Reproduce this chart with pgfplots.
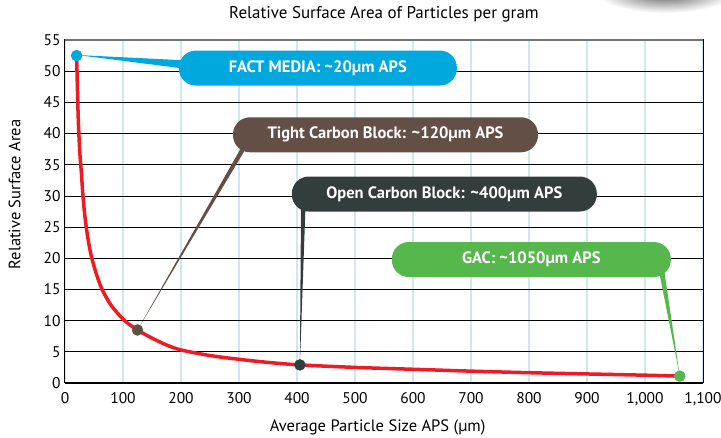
\documentclass[border=0pt]{standalone}
\usepackage{pgfplots}
\pgfplotsset{compat=1.18}
\usepackage{fontspec}
\setmainfont{PT Sans}
\definecolor{redline}{HTML}{ED1C24}
\definecolor{factblue}{HTML}{00A8DE}
\definecolor{tightbrown}{HTML}{634F45}
\definecolor{opendark}{HTML}{343D3E}
\definecolor{gacgreen}{HTML}{56B84C}
\definecolor{gridblue}{HTML}{CDE7F4}
\begin{document}
\begin{tikzpicture}
\useasboundingbox (-65pt,-55pt) rectangle (656pt,383pt);
\begin{scope}
\clip (-65pt,-55pt) rectangle (656pt,383pt);
\shade[inner color=black!70, outer color=white] (600pt,392pt) ellipse (70pt and 22pt);
\end{scope}
\begin{axis}[
  scale only axis, width=638pt, height=343pt,
  xmin=0, xmax=1100, ymin=0, ymax=55,
  xtick={0,100,...,1100}, ytick={0,5,...,55},
  major tick length=0pt,
  xmajorgrids, ymajorgrids,
  major x grid style={gridblue, line width=1.6pt},
  major y grid style={black, line width=0.8pt},
  axis line style={black, line width=1pt},
  tick label style={font=\fontsize{15.5}{17}\selectfont},
  xticklabel style={yshift=-6pt},
  yticklabel style={xshift=-1pt},
  /pgf/number format/assume math mode=true,
  /pgf/number format/1000 sep={,},
  xlabel={Average Particle Size APS (µm)},
  ylabel={Relative Surface Area},
  label style={font=\fontsize{16.5}{18}\selectfont},
  xlabel style={at={(axis description cs:0.49,-0.131)}, anchor=center},
  ylabel style={at={(axis description cs:-0.079,0.55)}, anchor=center},
  title={Relative Surface Area of Particles per gram},
  title style={at={(axis description cs:0.5,1.058)}, anchor=center, font=\fontsize{17}{19}\selectfont},
  clip=false,
]
\draw[black!55, line width=1.2pt] (rel axis cs:0,1) -- (rel axis cs:1,1);
% curve
\addplot[redline, line width=3.5pt, smooth, tension=0.5] coordinates {
 (20,52.5) (21.5,47) (23,42) (25.5,37) (28,34) (31,30) (34,27) (39,23.5)
 (45,20.5) (54,17.5) (64,15) (80,12.4) (103,10) (125,8.5) (150,7.2)
 (175,6.1) (200,5.3) (250,4.4) (300,3.8) (350,3.3) (405,2.9) (500,2.5)
 (600,2.2) (700,1.9) (800,1.65) (900,1.45) (1000,1.25) (1060,1.1)
};
% pointers
\fill[factblue] (axis cs:20,52.6) -- (axis cs:215,51.7) -- (axis cs:215,50.3) -- cycle;
\fill[tightbrown] (axis cs:125,8.5) -- (axis cs:306,38.1) -- (axis cs:315,38.1) -- cycle;
\fill[opendark] (axis cs:405,2.9) -- (axis cs:407,29.3) -- (axis cs:415,29.3) -- cycle;
\fill[gacgreen] (axis cs:1060,1.1) -- (axis cs:1021,19.4) -- (axis cs:1031,19.4) -- cycle;
% dots
\addplot[only marks, mark=*, mark size=5.5pt, factblue] coordinates {(20,52.5)};
\addplot[only marks, mark=*, mark size=5.5pt, tightbrown] coordinates {(125,8.5)};
\addplot[only marks, mark=*, mark size=5.5pt, opendark] coordinates {(405,2.9)};
\addplot[only marks, mark=*, mark size=5.5pt, gacgreen] coordinates {(1060,1.1)};
% boxes
\tikzset{callout/.style={rounded corners=17pt, inner sep=0pt, text=white,
  font=\fontsize{16.5}{18}\bfseries\selectfont, minimum height=35pt}}
\node[callout, fill=factblue, minimum width=278pt] at (axis cs:436,50.5) {FACT MEDIA: \textasciitilde20µm APS};
\node[callout, fill=tightbrown, minimum width=305pt] at (axis cs:552.6,39.8) {Tight Carbon Block: \textasciitilde120µm APS};
\node[callout, fill=opendark, minimum width=305pt] at (axis cs:654,30.3) {Open Carbon Block: \textasciitilde400µm APS};
\node[callout, fill=gacgreen, minimum width=279pt] at (axis cs:804,19.8) {GAC: \textasciitilde1050µm APS};
\end{axis}
\end{tikzpicture}
\end{document}
